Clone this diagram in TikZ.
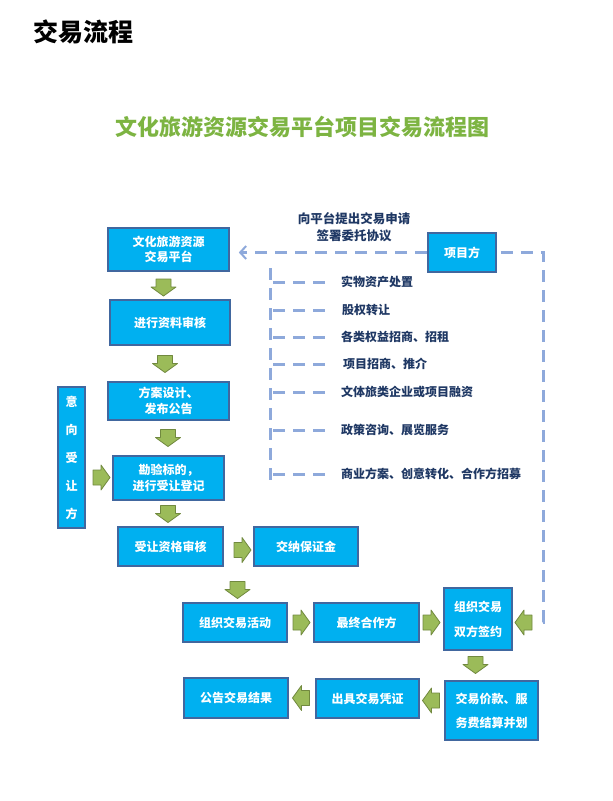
\documentclass[tikz,border=0pt]{standalone}
\usepackage{fontspec}
\setmainfont{Noto Sans CJK SC}
\usetikzlibrary{arrows.meta,calc}
\definecolor{boxfill}{HTML}{00B0F0}
\definecolor{boxline}{HTML}{41679F}
\definecolor{gfill}{HTML}{9BBB59}
\definecolor{gline}{HTML}{71893F}
\definecolor{dashc}{HTML}{8EA9DB}
\definecolor{navy}{HTML}{1F3864}
\definecolor{titleg}{HTML}{7DB442}
\tikzset{
  box/.style={draw=boxline, line width=1.6pt, fill=boxfill, text=white, inner sep=0pt, align=center,
    font=\fontsize{12}{15.5}\selectfont\bfseries},
  lbl/.style={text=navy, anchor=west, inner sep=0pt, font=\fontsize{12}{16}\selectfont\bfseries},
  dline/.style={draw=dashc, line width=3pt, dash pattern=on 12pt off 8pt},
  downarr/.pic={\draw[gline, fill=gfill, line width=0.8pt, line join=round]
     (-7.5,-8.5) -- (7.5,-8.5) -- (7.5,-0.5) -- (12.5,-0.5) -- (0,8.5) -- (-12.5,-0.5) -- (-7.5,-0.5) -- cycle;},
  rightarr/.pic={\draw[gline, fill=gfill, line width=0.8pt, line join=round]
     (-8.5,-7.5) -- (-8.5,7.5) -- (-0.5,7.5) -- (-0.5,12.5) -- (8.5,0) -- (-0.5,-12.5) -- (-0.5,-7.5) -- cycle;},
  leftarr/.pic={\draw[gline, fill=gfill, line width=0.8pt, line join=round]
     (8.5,-7.5) -- (8.5,7.5) -- (0.5,7.5) -- (0.5,12.5) -- (-8.5,0) -- (0.5,-12.5) -- (0.5,-7.5) -- cycle;},
}
\begin{document}
\begin{tikzpicture}[x=1pt,y=-1pt]
\useasboundingbox (0,0) rectangle (613,801);
\fill[white] (0,0) rectangle (613,801);

% titles
\node[font=\fontsize{25}{25}\selectfont\bfseries, inner sep=0pt] (t0) at (84,32) {交易流程};
\node[font=\fontsize{22}{22}\selectfont\bfseries, text=titleg, inner sep=0pt] (t1) at (302.5,127) {文化旅游资源交易平台项目交易流程图};

% main column
\node[box, minimum width=121pt, minimum height=43pt] (b1) at (168.5,249.5) {文化旅游资源\\交易平台};
\node[box, minimum width=120pt, minimum height=45pt] (b2) at (170,322.5) {进行资料审核};
\node[box, minimum width=121pt, minimum height=38pt] (b3) at (168.5,401) {方案设计、\\发布公告};
\node[box, minimum width=111pt, minimum height=44pt] (b4) at (168.5,478) {勘验标的，\\进行受让登记};
\node[box, minimum width=27pt, minimum height=141pt, font=\fontsize{12}{28}\selectfont\bfseries] (side) at (71.5,457.5) {意\\向\\受\\让\\方};
\node[box, minimum width=105pt, minimum height=39pt] (b5) at (170.5,546.5) {受让资格审核};
\node[box, minimum width=104pt, minimum height=39pt] (b6) at (306,546.5) {交纳保证金};
\node[box, minimum width=104pt, minimum height=39pt] (b7) at (235,622.5) {组织交易活动};
\node[box, minimum width=105pt, minimum height=39pt] (b8) at (366.5,622.5) {最终合作方};
\node[box, minimum width=68pt, minimum height=62pt, font=\fontsize{12}{25}\selectfont\bfseries] (b9) at (478,619) {组织交易\\双方签约};
\node[box, minimum width=93pt, minimum height=59pt, font=\fontsize{12}{24}\selectfont\bfseries] (b10) at (491.5,710.5) {交易价款、服\\务费结算并划};
\node[box, minimum width=103pt, minimum height=39pt] (b11) at (367.5,698.5) {出具交易凭证};
\node[box, minimum width=104pt, minimum height=40pt] (b12) at (236,698) {公告交易结果};
\node[box, minimum width=68pt, minimum height=39pt] (xm) at (462,252.5) {项目方};

% green block arrows
\pic at (163.5,287.5) {downarr};
\pic at (165,364) {downarr};
\pic at (168,438) {downarr};
\pic at (168,514) {downarr};
\pic at (237.5,590) {downarr};
\pic at (475.5,665) {downarr};
\pic at (101.5,477.5) {rightarr};
\pic at (242.5,550) {rightarr};
\pic at (301.5,622.5) {rightarr};
\pic at (431.5,622.5) {rightarr};
\pic at (523.5,622.5) {leftarr};
\pic at (431,700.5) {leftarr};
\pic at (301,698) {leftarr};

% dashed connections
\draw[dline, -{Straight Barb[length=6pt,width=13pt,line width=2pt]}, shorten >=9pt] (xm.west) -- (b1.east |- xm.west);
\coordinate (rc) at (537,622);
\draw[dline] (xm.east) ++(4,0) -| (543,622) -- (rc);
\node[text=navy, inner sep=0pt, align=center, font=\fontsize{12.5}{16.5}\selectfont\bfseries] (req) at (354,227) {向平台提出交易申请\\签署委托协议};

% services list
\draw[dline] (270,268) -- (270,487);
\node[lbl] (s1) at (341,282) {实物资产处置};
\node[lbl] (s2) at (342,310) {股权转让};
\node[lbl] (s3) at (341,337) {各类权益招商、招租};
\node[lbl] (s4) at (343,364) {项目招商、推介};
\node[lbl] (s5) at (341,392) {文体旅类企业或项目融资};
\node[lbl] (s6) at (341,430) {政策咨询、展览服务};
\node[lbl] (s7) at (341,474) {商业方案、创意转化、合作方招募};
\foreach \s in {s1,s2,s3,s4,s5,s6,s7}{
  \draw[dline] (273,0 |- \s.west) -- (330,0 |- \s.west);
}
\end{tikzpicture}
\end{document}
